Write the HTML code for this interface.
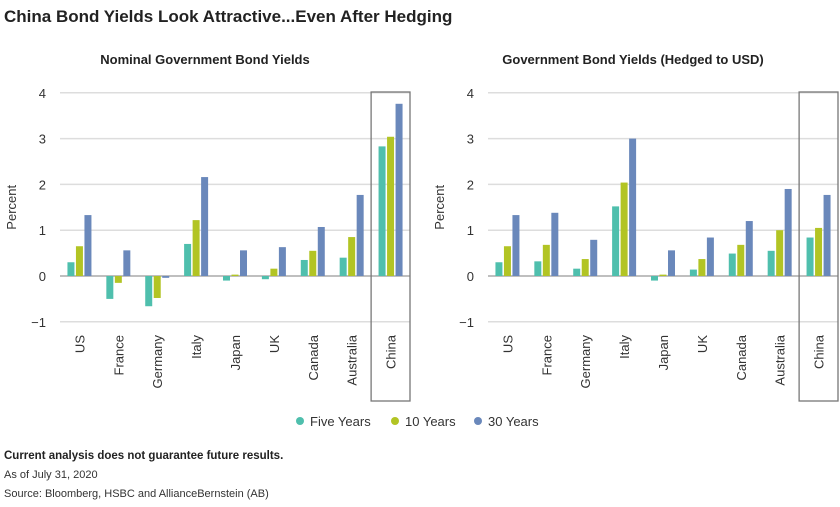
<!DOCTYPE html>
<html><head><meta charset="utf-8"><style>
body{margin:0;background:#fff;font-family:"Liberation Sans",sans-serif;}
</style></head><body>
<svg width="840" height="502" xmlns="http://www.w3.org/2000/svg" font-family="Liberation Sans, sans-serif">
<text x="4" y="22" font-size="17" font-weight="bold" fill="#222">China Bond Yields Look Attractive...Even After Hedging</text>
<g id="left"></g><g id="right"></g>
<g font-size="13" fill="#333">
<circle cx="300" cy="421" r="4" fill="#4fbfad"/><text x="310" y="426">Five Years</text>
<circle cx="395" cy="421" r="4" fill="#b2c424"/><text x="405" y="426">10 Years</text>
<circle cx="478" cy="421" r="4" fill="#6a88bb"/><text x="488" y="426">30 Years</text>
</g>
<text x="4" y="459" font-size="11.5" font-weight="bold" fill="#222">Current analysis does not guarantee future results.</text>
<text x="4" y="478" font-size="11" fill="#333">As of July 31, 2020</text>
<text x="4" y="497" font-size="11" fill="#333">Source: Bloomberg, HSBC and AllianceBernstein (AB)</text>
</svg>
<script>
const categories=["US","France","Germany","Italy","Japan","UK","Canada","Australia","China"];
const nominalFive=[0.3,-0.5,-0.66,0.7,-0.1,-0.07,0.35,0.4,2.83];
const nominalTen=[0.65,-0.15,-0.48,1.22,0.03,0.16,0.55,0.85,3.04];
const nominalThirty=[1.33,0.56,-0.04,2.16,0.56,0.63,1.07,1.77,3.76];
const hedgedFive=[0.3,0.32,0.16,1.52,-0.1,0.14,0.49,0.55,0.84];
const hedgedTen=[0.65,0.68,0.37,2.04,0.03,0.37,0.68,1.0,1.05];
const hedgedThirty=[1.33,1.38,0.79,3.0,0.56,0.84,1.2,1.9,1.77];
const yTicks=[-1,0,1,2,3,4];
const colors=["#4fbfad","#b2c424","#6a88bb"];
const NS="http://www.w3.org/2000/svg";
function mk(p,t,a){const e=document.createElementNS(NS,t);for(const k in a)e.setAttribute(k,a[k]);p.appendChild(e);return e;}
function draw(gid,x0,x1,title,series,pre){
 const g=document.getElementById(gid);
 const y=v=>276-v*45.8;
 const cw=(x1-x0)/categories.length;
 const t=mk(g,"text",{x:(x0+x1)/2-30,y:64,"text-anchor":"middle","font-size":"13","font-weight":"bold",fill:"#222"});
 t.textContent=title;
 
 
 yTicks.forEach(v=>{
  const l=mk(g,"line",{x1:x0,x2:x1,y1:y(v),y2:y(v),stroke:v===0?"#999":"#ddd","stroke-width":v===0?1.2:1.5});
  
  
  const tx=mk(g,"text",{x:x0-14,y:y(v)+5,"text-anchor":"end","font-size":"13",fill:"#333"});
  tx.textContent=v<0?"\u2212"+Math.abs(v):String(v);
  
  
 });
 const yt=mk(g,"text",{transform:`translate(${x0-44},${y(1.5)}) rotate(-90)`,"text-anchor":"middle","font-size":"13",fill:"#333"});
 yt.textContent="Percent";
 
 
 categories.forEach((c,i)=>{
  const cx=x0+cw*(i+0.5);
  series.forEach((s,j)=>{
   const v=s[i];const bx=cx-12+j*8.5;
   const r=mk(g,"rect",{x:bx,y:Math.min(y(v),y(0)),width:7,height:Math.max(0.8,Math.abs(y(v)-y(0))),fill:colors[j]});
   
   
  });
  const lb=mk(g,"text",{transform:`translate(${cx+5},335) rotate(-90)`,"text-anchor":"end","font-size":"13",fill:"#333"});
  lb.textContent=c;
  
  
 });
 const b=mk(g,"rect",{x:x1-cw,y:92,width:cw,height:309,fill:"none",stroke:"#777","stroke-width":1.3});
 
 
}
draw("left",60,410,"Nominal Government Bond Yields",[nominalFive,nominalTen,nominalThirty],"nominal");
draw("right",488,838,"Government Bond Yields (Hedged to USD)",[hedgedFive,hedgedTen,hedgedThirty],"hedged");
</script>
</body></html>
